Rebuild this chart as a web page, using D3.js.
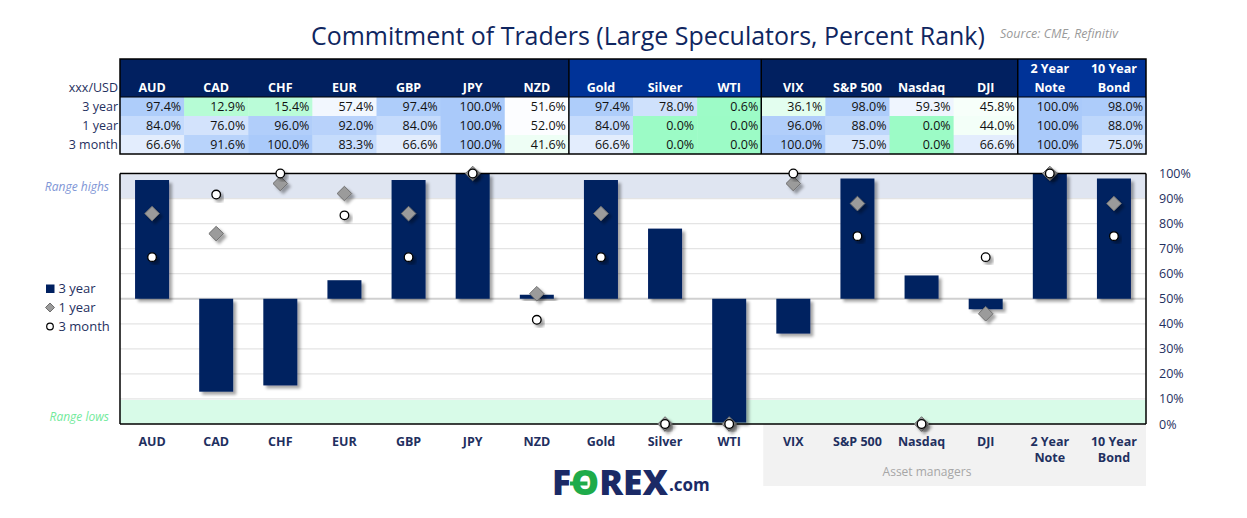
<!DOCTYPE html>
<html><head><meta charset="utf-8">
<script src="https://cdn.jsdelivr.net/npm/d3@7"></script>
<style>
html,body{margin:0;padding:0;background:#fff;}
svg text{font-family:"Open Sans","Noto Sans",sans-serif;}
</style></head>
<body><svg id="c" width="1247" height="518"></svg>
<script>
const categories = ["AUD","CAD","CHF","EUR","GBP","JPY","NZD","Gold","Silver","WTI","VIX","S&P 500","Nasdaq","DJI","2 Year\nNote","10 Year\nBond"];
const threeYear  = [97.4,12.9,15.4,57.4,97.4,100,51.6,97.4,78.0,0.6,36.1,98.0,59.3,45.8,100,98.0];
const oneYear    = [84.0,76.0,96.0,92.0,84.0,100,52.0,84.0,0.0,0.0,96.0,88.0,0.0,44.0,100,88.0];
const threeMonth = [66.6,91.6,100,83.3,66.6,100,41.6,66.6,0.0,0.0,100,75.0,0.0,66.6,100,75.0];
const rowLabels  = ["3 year","1 year","3 month"];
const yTicks     = [0,10,20,30,40,50,60,70,80,90,100];
const sectionBreaks = [7,10,14];

const navy = "#002060", textNavy = "#1f3060";
const svg = d3.select("#c");
const defs = svg.append("defs");
const f = defs.append("filter").attr("id","sh").attr("x","-30%").attr("y","-30%").attr("width","170%").attr("height","170%");
f.append("feDropShadow").attr("dx",3).attr("dy",3).attr("stdDeviation",1.8).attr("flood-color","#000").attr("flood-opacity",0.35);

const L = 120, R = 1146;
const x = d3.scaleBand().domain(d3.range(categories.length)).range([L,R]).padding(0);
const bw = x.bandwidth();
const y = d3.scaleLinear().domain([0,100]).range([424,173.5]);

function fit(sel, w){ const n = sel.node(); const cur = n.getComputedTextLength(); const fs = parseFloat(sel.attr("font-size")); sel.attr("font-size", fs*w/cur); }
const title = svg.append("text").attr("x",311).attr("y",45).attr("font-size",26).attr("fill","#0f2660")
  .text("Commitment of Traders (Large Speculators, Percent Rank)");
fit(title, 674);
const src = svg.append("text").attr("x",1000).attr("y",38).attr("font-size",11).attr("font-style","italic").attr("fill","#9a9a9a")
  .text("Source: CME, Refinitiv");
fit(src, 118);

// Table
const tTop = 59, hH = 38, rH = 19;
const heat = d3.scaleLinear().domain([0,50,100]).range(["#9cfbc6","#ffffff","#aacafa"]);
const groups = [[0,7,"#012060"],[7,10,"#003398"],[10,14,"#012060"],[14,16,"#003398"]];
groups.forEach(g=>{
  svg.append("rect").attr("x",x(g[0])).attr("y",tTop).attr("width",x(g[1]-1)+bw-x(g[0])).attr("height",hH).attr("fill",g[2]);
});
categories.forEach((c,i)=>{
  const lines = c.split("\n");
  lines.forEach((ln,k)=>{
    svg.append("text").attr("x",x(i)+bw/2).attr("y",tTop+hH-5-(lines.length-1-k)*19)
      .attr("text-anchor","middle").attr("font-weight","bold").attr("font-size",12.5).attr("fill","#fff").text(ln);
  });
});
svg.append("text").attr("x",118).attr("y",tTop+hH-5).attr("text-anchor","end").attr("font-size",12.5).attr("fill",textNavy).text("xxx/USD");
const rows = [threeYear, oneYear, threeMonth];
rows.forEach((arr,r)=>{
  const ty = tTop+hH+r*rH;
  svg.append("text").attr("x",118).attr("y",ty+14).attr("text-anchor","end").attr("font-size",12.5).attr("fill",textNavy).text(rowLabels[r]);
  arr.forEach((v,i)=>{
    svg.append("rect").attr("x",x(i)).attr("y",ty).attr("width",bw+0.5).attr("height",rH).attr("fill",heat(v));
    svg.append("text").attr("x",x(i)+bw-3).attr("y",ty+14).attr("text-anchor","end").attr("font-size",12.5).attr("fill","#111")
      .text(d3.format(".1f")(v)+"%");
  });
});
const tBot = tTop+hH+3*rH;
svg.append("rect").attr("x",L).attr("y",tTop).attr("width",R-L).attr("height",tBot-tTop).attr("fill","none").attr("stroke","#000").attr("stroke-width",1.5);
svg.append("line").attr("x1",L).attr("x2",R).attr("y1",tTop+hH).attr("y2",tTop+hH).attr("stroke","#000").attr("stroke-width",1.2);
sectionBreaks.forEach(b=>{
  svg.append("line").attr("x1",x(b)).attr("x2",x(b)).attr("y1",tTop).attr("y2",tBot).attr("stroke","#000").attr("stroke-width",1.5);
});

// Asset managers region
svg.append("rect").attr("x",x(10)+2).attr("y",y(0)).attr("width",R-x(10)-2).attr("height",486-y(0)).attr("fill","#f2f2f2");
svg.append("text").attr("x",927).attr("y",476).attr("text-anchor","middle").attr("font-size",12).attr("fill","#a6a6a6").text("Asset managers");

// Bands
svg.append("rect").attr("x",L).attr("y",y(100)+1).attr("width",R-L).attr("height",y(90)-y(100)-1).attr("fill","#dfe5f1");
svg.append("rect").attr("x",L).attr("y",y(10)+1).attr("width",R-L).attr("height",y(0)-y(10)-1).attr("fill","#d8fbe8");
yTicks.filter(t=>t>0 && t<100).forEach(t=>{
  svg.append("line").attr("x1",L).attr("x2",R).attr("y1",y(t)).attr("y2",y(t))
    .attr("stroke", t===50 ? "#d0d0d0" : "#e4e4e4").attr("stroke-width", t===50 ? 2 : 1.2);
});
svg.append("text").attr("x",109).attr("y",y(95)+4.5).attr("text-anchor","end").attr("font-size",12).attr("font-style","italic").attr("fill","#8096d6").text("Range highs");
svg.append("text").attr("x",109).attr("y",y(3)+4.5).attr("text-anchor","end").attr("font-size",12).attr("font-style","italic").attr("fill","#72ea9c").text("Range lows");

// Bars
const barW = 34;
svg.append("g").selectAll("rect").data(threeYear).join("rect")
  .attr("x",(d,i)=>x(i)+bw/2-barW/2).attr("width",barW)
  .attr("y",d=>Math.min(y(d),y(50))).attr("height",d=>Math.abs(y(d)-y(50)))
  .attr("fill",navy).attr("filter","url(#sh)");

// Frame
svg.append("line").attr("x1",L).attr("x2",R).attr("y1",y(100)).attr("y2",y(100)).attr("stroke","#000").attr("stroke-width",1.5);
svg.append("line").attr("x1",L).attr("x2",R).attr("y1",y(0)).attr("y2",y(0)).attr("stroke","#000").attr("stroke-width",1.5);
svg.append("line").attr("x1",L).attr("x2",L).attr("y1",y(100)).attr("y2",y(0)).attr("stroke","#000").attr("stroke-width",1.5);
svg.append("line").attr("x1",R).attr("x2",R).attr("y1",y(100)).attr("y2",y(0)).attr("stroke","#000").attr("stroke-width",1.5);

// Diamonds
const dS = 7.3;
svg.append("g").selectAll("path").data(oneYear).join("path")
  .attr("transform",(d,i)=>`translate(${x(i)+bw/2},${y(d)})`)
  .attr("d",`M0,${-dS}L${dS},0L0,${dS}L${-dS},0Z`)
  .attr("fill","#9b9b9b").attr("stroke","#6e6e6e").attr("stroke-width",1).attr("filter","url(#sh)");
// Circles
svg.append("g").selectAll("circle").data(threeMonth).join("circle")
  .attr("cx",(d,i)=>x(i)+bw/2).attr("cy",d=>y(d)).attr("r",4.3)
  .attr("fill","#fff").attr("stroke","#000").attr("stroke-width",1.3).attr("filter","url(#sh)");

// Right axis
const axis = d3.axisRight(y).tickValues(yTicks).tickFormat(d=>d+"%").tickSize(0).tickPadding(13);
const ag = svg.append("g").attr("transform",`translate(${R},0)`).call(axis);
ag.select(".domain").remove();
ag.selectAll("text").attr("font-size",12.5).attr("fill",textNavy).attr("font-family","Open Sans");

// X labels
categories.forEach((c,i)=>{
  c.split("\n").forEach((ln,k)=>{
    svg.append("text").attr("x",x(i)+bw/2).attr("y",446+k*16).attr("text-anchor","middle")
      .attr("font-size",12.5).attr("font-weight","bold").attr("fill",textNavy).text(ln);
  });
});

// Legend
const lg = svg.append("g");
lg.append("rect").attr("x",46).attr("y",284.5).attr("width",8.5).attr("height",8.5).attr("fill",navy);
lg.append("path").attr("transform","translate(50,307.5)").attr("d","M0,-4.5L4.5,0L0,4.5L-4.5,0Z").attr("fill","#9b9b9b").attr("stroke","#6e6e6e");
lg.append("circle").attr("cx",50).attr("cy",326.5).attr("r",3.3).attr("fill","#fff").attr("stroke","#000").attr("stroke-width",1.2);
rowLabels.forEach((t,k)=>{
  lg.append("text").attr("x",58.5).attr("y",293+k*19).attr("font-size",13).attr("fill",textNavy).text(t);
});

// Logo
const logo = svg.append("text").attr("x",552).attr("y",495).attr("font-size",31).attr("font-weight","900").attr("font-family","Roboto, 'Open Sans'").attr("fill","#1b2a66");
logo.append("tspan").text("F");
logo.append("tspan").attr("fill","#1eab4a").text("O");
logo.append("tspan").text("REX");
fit(logo,116);
const n = logo.node();
const o0 = n.getStartPositionOfChar(1).x, o1 = n.getEndPositionOfChar(1).x;
svg.append("rect").attr("x",o0-1).attr("y",481.5).attr("width",(o1-o0)*0.62).attr("height",4).attr("fill","#1eab4a");
svg.append("text").attr("x",669).attr("y",491).attr("font-size",17).attr("font-weight","bold").attr("font-family","Roboto, 'Open Sans'").attr("fill","#1b2a66").text(".com");
</script></body></html>
